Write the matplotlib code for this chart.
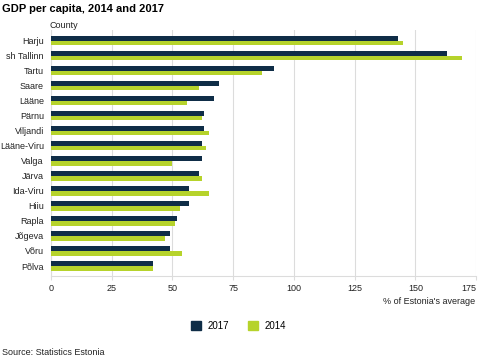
import numpy as np
import matplotlib
matplotlib.use('Agg')
import matplotlib.pyplot as plt
from matplotlib.patches import Patch

plt.rcParams['font.family'] = ['Liberation Sans', 'DejaVu Sans']

# ========== 數據 ==========
counties = ['Harju', 'sh Tallinn', 'Tartu', 'Saare', 'Lääne', 'Pärnu', 'Viljandi',
            'Lääne-Viru', 'Valga', 'Järva', 'Ida-Viru', 'Hiiu', 'Rapla', 'Jõgeva',
            'Võru', 'Põlva']
gdp_2017 = [143, 163, 92, 69, 67, 63, 63, 62, 62, 61, 57, 57, 52, 49, 49, 42]
gdp_2014 = [145, 169, 87, 61, 56, 62, 65, 64, 50, 62, 65, 53, 51, 47, 54, 42]
xticks = [0, 25, 50, 75, 100, 125, 150, 175]

c2017 = '#0f2d47'
c2014 = '#b6d32b'
grid_c = '#dcdcdc'
txt_c = '#222222'

fig = plt.figure(figsize=(4.8, 3.59), dpi=100)
ax = fig.add_axes([0.106, 0.231, 0.886, 0.685])

y = np.arange(len(counties))
h = 0.3
ax.barh(y - 0.16, gdp_2017, height=h, color=c2017, zorder=3)
ax.barh(y + 0.16, gdp_2014, height=h, color=c2014, zorder=3)

ax.set_ylim(15.67, -0.7)
ax.set_xlim(0, 175)
ax.set_xticks(xticks)
ax.set_xticklabels([str(t) for t in xticks], fontsize=6.5, color=txt_c)
ax.get_xticklabels()[-1].set_horizontalalignment('right')
ax.set_yticks(y)
ax.set_yticklabels(counties, fontsize=6.5, color=txt_c)
ax.tick_params(axis='y', length=0, pad=5)
ax.tick_params(axis='x', length=3, color=grid_c, pad=3)

ax.grid(axis='x', color=grid_c, linewidth=0.8, zorder=0)
for s in ['top', 'right']:
    ax.spines[s].set_visible(False)
ax.spines['left'].set_color(grid_c)
ax.spines['bottom'].set_color(grid_c)
ax.spines['left'].set_linewidth(0.8)
ax.spines['bottom'].set_linewidth(0.8)

fig.text(0.004, 0.99, 'GDP per capita, 2014 and 2017', fontsize=8,
         fontweight='bold', va='top', ha='left')
fig.text(0.104, 0.928, 'County', fontsize=6.5, va='center', ha='left', color=txt_c)
fig.text(0.99, 0.16, "% of Estonia's average", fontsize=6.5, ha='right',
         va='center', color=txt_c)
fig.text(0.004, 0.018, 'Source: Statistics Estonia', fontsize=6.5, ha='left',
         va='center', color=txt_c)

handles = [Patch(color=c2017, label='2017'), Patch(color=c2014, label='2014')]
fig.legend(handles=handles, loc='center', bbox_to_anchor=(0.497, 0.093), ncol=2,
           frameon=False, fontsize=7, handlelength=1.0, handleheight=1.0,
           columnspacing=2.0, handletextpad=0.7)

fig.savefig('out.png', dpi=100)
